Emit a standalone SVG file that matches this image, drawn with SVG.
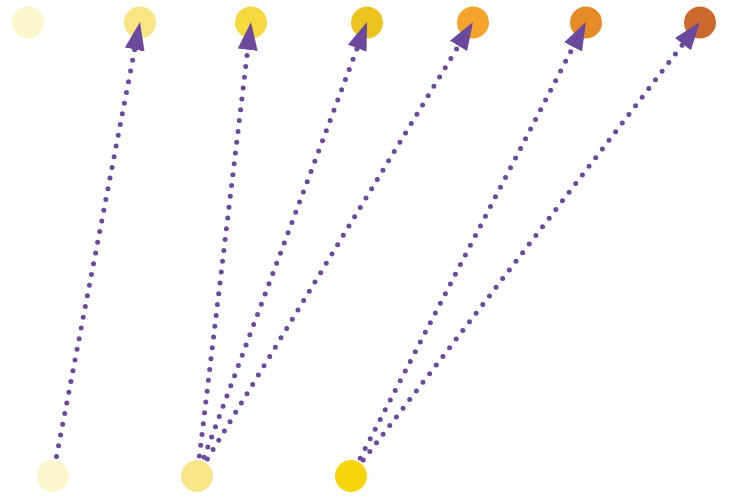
<svg xmlns="http://www.w3.org/2000/svg" width="731" height="498" viewBox="0 0 731 498">
<style>
.edge{fill:none;stroke:#6b4a9e;stroke-width:5;stroke-linecap:round;stroke-dasharray:0 10.9}
</style>
<defs>
<marker id="arr" markerUnits="userSpaceOnUse" markerWidth="30" markerHeight="22" viewBox="0 -11 30 22" refX="0" refY="0" orient="auto">
<path d="M0,-10 L28,0 L0,10 z" fill="#6b4a9e"/>
</marker>
</defs>
<rect width="731" height="498" fill="#ffffff"/>
<g id="t1"><circle cx="28" cy="22.5" r="16" fill="#fbf6cc"/></g>
<g id="t2"><circle cx="140" cy="22.5" r="16" fill="#f9e583"/></g>
<g id="t3"><circle cx="251" cy="22.5" r="16" fill="#f6d93f"/></g>
<g id="t4"><circle cx="367" cy="22.5" r="16" fill="#ecc41f"/></g>
<g id="t5"><circle cx="473" cy="22.5" r="16" fill="#f5a32a"/></g>
<g id="t6"><circle cx="586" cy="22.5" r="16" fill="#e68a25"/></g>
<g id="t7"><circle cx="700" cy="22.5" r="16" fill="#cb6a2c"/></g>
<g id="b1"><circle cx="52.7" cy="476" r="16" fill="#fbf6cc"/></g>
<g id="b2"><circle cx="197" cy="476" r="16" fill="#f9e68b"/></g>
<g id="b3"><circle cx="351" cy="476" r="16" fill="#f8d50b"/></g>
<g id="edges">
<path class="edge" marker-end="url(#arr)" d="M56.5,456.4 L134.7,49.5"/>
<path class="edge" marker-end="url(#arr)" d="M199.4,456.1 L247.7,49.8"/>
<path class="edge" marker-end="url(#arr)" d="M204,457.3 L357.2,48.2"/>
<path class="edge" marker-end="url(#arr)" d="M207.4,458.9 L458.5,45.9"/>
<path class="edge" marker-end="url(#arr)" d="M360.2,458.2 L573.1,46.9"/>
<path class="edge" marker-end="url(#arr)" d="M363.2,460.1 L682.9,44.2"/>
</g>
</svg>
